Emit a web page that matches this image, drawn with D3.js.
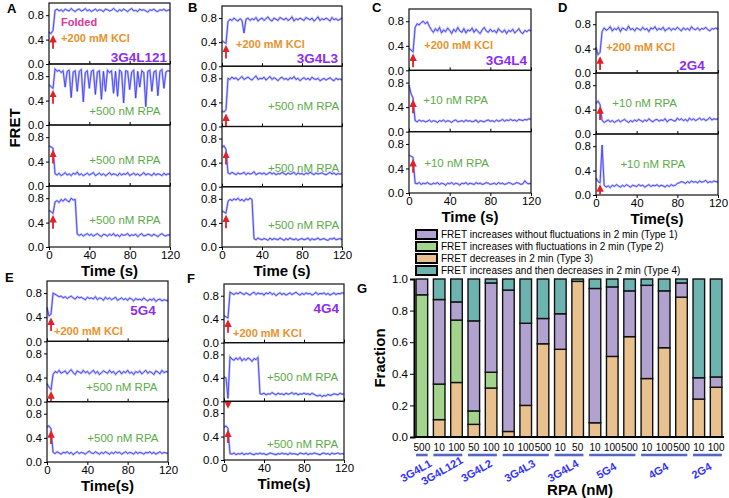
<!DOCTYPE html>
<meta charset="utf-8">
<head>
<script src="https://d3js.org/d3.v7.min.js"></script>
<style>
  body { margin: 0; background: #fff; }
  svg { font-family: Arial, "Liberation Sans", sans-serif; }
  .trace-bg { fill: none; stroke: #b9b9ff; stroke-width: 2.2; }
  .trace { fill: none; stroke: #3434f2; stroke-width: 0.8; }
  .frame { fill: none; stroke: #111; stroke-width: 1.2; }
  .axis path, .axis line { stroke: #000; }
  .axis text { font-size: 11.5px; fill: #000; }
  .ttl { font-weight: bold; font-size: 15px; }
</style>
</head>
<body>
<div id="my_dataviz"></div>
<script>
// FRET traces, one sample every 2 s from 0 to 120 s
var timeStep = 2;
var timeTicks = [0, 40, 80, 120];
var fretTicks = [0, 0.4, 0.8];

var traceA1 = [.52,.50,.55,.88,.90,.87,.89,.86,.90,.88, .87,.91,.88,.86,.89,.90,.87,.88,.91,.87, .89,.86,.88,.90,.87,.89,.88,.86,.90,.89,
  .87,.88,.91,.88,.86,.89,.87,.90,.88,.86, .89,.91,.87,.88,.86,.90,.88,.89,.87,.85, .89,.88,.90,.87,.86,.89,.88,.90,.87,.88, .89];
var traceA2 = [.66,.63,.60,.92,.88,.90,.86,.89,.62,.88, .90,.45,.87,.89,.55,.88,.91,.38,.86,.89, .60,.88,.90,.50,.87,.89,.42,.88,.55,.90,
  .86,.89,.52,.88,.47,.90,.87,.36,.89,.88, .58,.87,.90,.44,.88,.62,.89,.86,.30,.88, .90,.55,.87,.89,.48,.88,.91,.60,.87,.89, .88];
var traceA3 = [.66,.64,.62,.20,.18,.21,.17,.19,.22,.18, .20,.17,.21,.19,.23,.18,.20,.17,.19,.21, .18,.20,.22,.17,.19,.21,.18,.20,.17,.19,
  .22,.18,.20,.19,.17,.21,.18,.20,.19,.22, .17,.19,.21,.18,.20,.17,.19,.22,.18,.20, .19,.17,.21,.18,.20,.19,.17,.21,.18,.20, .19];
var traceA4 = [.60,.58,.55,.74,.76,.73,.78,.75,.79,.76, .74,.80,.77,.78,.21,.19,.21,.18,.20,.22, .19,.21,.18,.20,.22,.19,.17,.21,.20,.18,
  .21,.19,.22,.18,.20,.17,.21,.19,.20,.22, .18,.20,.19,.21,.17,.20,.22,.18,.19,.21, .20,.18,.21,.19,.17,.20,.22,.19,.18,.20, .19];

var traceB1 = [.42,.40,.38,.74,.78,.76,.80,.77,.75,.79, .76,.55,.78,.80,.76,.79,.77,.81,.75,.78, .80,.76,.79,.82,.77,.75,.80,.78,.76,.81,
  .79,.77,.80,.76,.78,.82,.75,.79,.77,.80, .78,.76,.81,.79,.77,.80,.75,.78,.82,.76, .79,.77,.80,.78,.75,.81,.77,.79,.76,.78, .80];
var traceB2 = [.26,.24,.28,.80,.78,.82,.79,.81,.77,.80, .83,.78,.80,.82,.79,.77,.81,.84,.78,.80, .79,.82,.77,.80,.83,.78,.81,.79,.76,.80,
  .82,.78,.80,.77,.81,.79,.83,.78,.80,.76, .79,.81,.78,.80,.77,.82,.79,.78,.80,.76, .78,.80,.77,.79,.81,.78,.76,.80,.78,.79, .77];
var traceB3 = [.66,.68,.62,.23,.21,.24,.22,.20,.23,.21, .22,.24,.20,.23,.21,.22,.25,.20,.22,.23, .21,.23,.20,.22,.24,.21,.23,.20,.22,.21,
  .24,.22,.20,.23,.21,.22,.24,.20,.23,.21, .22,.20,.23,.21,.24,.22,.20,.23,.21,.22, .23,.21,.20,.22,.24,.21,.23,.20,.22,.21, .22];
var traceB4 = [.60,.58,.56,.76,.79,.77,.80,.78,.81,.77, .79,.76,.80,.78,.81,.79,.14,.12,.15,.13, .12,.14,.13,.11,.15,.12,.14,.13,.12,.15,
  .13,.11,.14,.12,.15,.13,.12,.14,.11,.13, .14,.12,.13,.15,.11,.14,.12,.13,.15,.12, .13,.14,.12,.11,.14,.13,.15,.12,.13,.14, .12];

var traceC1 = [.36,.33,.30,.70,.76,.74,.78,.80,.76,.79, .72,.66,.62,.68,.64,.70,.61,.66,.63,.69, .65,.60,.67,.63,.70,.64,.62,.68,.61,.66,
  .64,.69,.62,.67,.63,.60,.66,.70,.64,.62, .67,.63,.65,.61,.68,.64,.62,.66,.60,.65, .63,.67,.61,.64,.68,.62,.60,.65,.63,.66, .64];
var traceC2 = [.76,.62,.55,.18,.16,.19,.17,.18,.16,.17, .19,.16,.18,.17,.15,.18,.17,.19,.16,.18, .17,.15,.18,.19,.16,.17,.18,.16,.19,.17,
  .18,.16,.17,.19,.15,.18,.17,.16,.18,.19, .17,.18,.16,.19,.17,.18,.20,.17,.19,.18, .20,.18,.19,.17,.20,.19,.18,.20,.19,.21, .20];
var traceC3 = [.62,.60,.58,.16,.15,.17,.14,.16,.15,.17, .15,.14,.16,.15,.17,.14,.16,.15,.13,.16, .15,.17,.14,.16,.15,.13,.16,.15,.17,.14,
  .16,.15,.14,.17,.15,.16,.14,.15,.17,.16, .14,.15,.16,.14,.17,.15,.16,.14,.15,.17, .16,.14,.15,.17,.16,.14,.15,.20,.16,.15, .16];

var traceD1 = [.42,.30,.34,.68,.74,.70,.72,.76,.69,.73, .71,.75,.68,.74,.72,.70,.77,.71,.73,.69, .74,.72,.70,.75,.71,.73,.68,.74,.72,.76,
  .70,.73,.71,.75,.69,.72,.74,.70,.73,.71, .75,.72,.69,.74,.71,.73,.70,.76,.72,.71, .74,.70,.73,.72,.75,.71,.69,.73,.72,.74, .71];
var traceD2 = [.50,.54,.48,.22,.19,.21,.23,.20,.22,.19, .21,.23,.20,.22,.24,.21,.19,.22,.20,.23, .21,.24,.22,.20,.23,.21,.25,.22,.20,.23,
  .24,.21,.23,.22,.25,.20,.23,.24,.22,.21, .26,.23,.25,.22,.24,.21,.26,.23,.25,.22, .24,.26,.23,.25,.22,.24,.27,.23,.25,.24, .25];
var traceD3 = [.28,.22,.20,.82,.16,.13,.15,.12,.16,.14, .17,.15,.13,.16,.14,.17,.15,.13,.16,.15, .14,.17,.15,.16,.13,.15,.17,.14,.16,.15,
  .17,.14,.16,.15,.13,.16,.14,.17,.15,.16, .19,.20,.22,.21,.19,.22,.20,.23,.21,.22, .20,.23,.21,.22,.24,.20,.22,.21,.23,.22, .21];

var traceE1 = [.56,.42,.45,.80,.78,.76,.74,.75,.72,.74, .71,.73,.75,.72,.70,.74,.72,.73,.71,.69, .73,.71,.72,.70,.74,.69,.72,.71,.68,.73,
  .70,.72,.69,.71,.73,.68,.70,.72,.69,.71, .68,.72,.70,.67,.71,.69,.70,.68,.72,.69, .67,.70,.68,.71,.66,.69,.70,.67,.69,.68, .67];
var traceE2 = [.30,.24,.20,.45,.50,.48,.52,.47,.49,.51, .46,.50,.53,.48,.45,.51,.49,.47,.52,.48, .50,.46,.49,.52,.47,.50,.45,.48,.51,.49,
  .47,.52,.48,.50,.45,.49,.51,.46,.50,.48, .52,.47,.49,.45,.50,.48,.51,.46,.49,.52, .47,.50,.48,.45,.51,.49,.46,.52,.48,.50, .49];
var traceE3 = [.58,.60,.55,.16,.14,.17,.15,.13,.16,.15, .17,.14,.16,.12,.15,.17,.14,.16,.15,.13, .16,.18,.15,.14,.17,.15,.13,.16,.14,.17,
  .15,.13,.16,.14,.17,.15,.16,.13,.15,.17, .14,.16,.15,.13,.17,.14,.16,.15,.13,.16, .15,.17,.14,.16,.13,.15,.17,.14,.16,.15, .14];

var traceF1 = [.46,.44,.42,.86,.84,.82,.85,.83,.86,.84, .82,.85,.83,.81,.84,.86,.82,.85,.83,.84, .81,.85,.83,.86,.82,.84,.80,.83,.85,.82,
  .84,.81,.83,.85,.82,.84,.86,.83,.81,.84, .82,.85,.83,.84,.81,.83,.86,.82,.84,.83, .85,.82,.84,.81,.83,.85,.82,.84,.83,.85, .84];
var traceF2 = [.42,.40,.05,.76,.72,.70,.74,.71,.75,.69, .73,.70,.74,.72,.68,.73,.71,.75,.13,.12, .14,.11,.13,.12,.15,.13,.11,.14,.12,.13,
  .11,.14,.12,.13,.15,.12,.14,.11,.13,.12, .14,.12,.13,.11,.14,.12,.10,.09,.11,.08, .10,.09,.12,.10,.11,.13,.12,.11,.14,.12, .13];
var traceF3 = [.56,.58,.54,.11,.10,.12,.09,.11,.10,.12, .09,.11,.10,.12,.10,.09,.11,.10,.12,.10, .11,.09,.10,.12,.11,.10,.09,.11,.10,.12,
  .10,.11,.09,.12,.10,.11,.10,.09,.12,.11, .10,.12,.09,.11,.10,.12,.11,.10,.09,.11, .12,.10,.11,.09,.12,.10,.11,.12,.10,.11, .10];

// Panel G: fraction of each trace type per construct / RPA concentration
var groupNames = ["3G4L1", "3G4L121", "3G4L2", "3G4L3", "3G4L4", "5G4", "4G4", "2G4"];
var barGroup   = [0, 1, 1, 2, 2, 3, 3, 3, 4, 4, 5, 5, 5, 6, 6, 6, 7, 7];
var barRPA     = ["500", "10", "100", "50", "100", "10", "100", "500", "10", "50", "10", "100", "500", "10", "100", "500", "10", "100"];
var type3 = [0, .11, .345, .08, .31, .035, .20, .59, .555, .985, .09, .51, .635, .37, .565, .885, .24, .315];
var type2 = [.90, .225, .395, .085, .10, 0, 0, 0, 0, 0, 0, 0, 0, 0, 0, 0, 0, 0];
var type1 = [.10, .535, .115, .57, .565, .895, .52, .16, .225, 0, .85, .44, .29, .59, .36, .09, .135, .065];
var type4 = [0, .13, .145, .265, .025, .07, .28, .25, .22, .015, .06, .05, .075, .04, .075, .025, .625, .62];

var typeKeys = ["type3", "type2", "type1", "type4"];
var typeColor = { type1: "#b2a2cf", type2: "#a3d48d", type3: "#e9c18f", type4: "#6db4b1" };
var legendItems = [
  ["type1", "FRET increases without fluctuations in 2 min (Type 1)"],
  ["type2", "FRET increases with fluctuations in 2 min (Type 2)"],
  ["type3", "FRET decreases in 2 min (Type 3)"],
  ["type4", "FRET increases and then decreases in 2 min (Type 4)"]
];

var cOrange = "#e8922c", cPurple = "#8c2cf0", cGreen = "#5aab46", cPink = "#e0359a", cRed = "#e2202a";
var kcl = "+200 mM KCl";

function note(text, t, v, color, opt) {
  opt = opt || {};
  return { text: text, t: t, v: v, color: color, bold: opt.bold !== false, anchor: opt.anchor || "start", size: opt.size || 11 };
}
function rpa(text, t, v) { return note(text, t, v, cGreen, { bold: false, size: 11.5 }); }

var panels = [
  { letter: "A", lx: 7, ly: 13, x0: 49, x1: 170, y0: 3, y1: 247, title: "Time (s)", rows: [
    { data: traceA1, notes: [note("Folded", 12, 0.63, cPink), note(kcl, 12, 0.36, cOrange), note("3G4L121", 117, 0.04, cPurple, { anchor: "end", size: 13.5 })] },
    { data: traceA2, notes: [rpa("+500 nM RPA", 40, 0.16)] },
    { data: traceA3, notes: [rpa("+500 nM RPA", 40, 0.36)] },
    { data: traceA4, notes: [rpa("+500 nM RPA", 40, 0.38)] } ] },
  { letter: "B", lx: 188, ly: 12, x0: 222, x1: 342, y0: 6, y1: 247, title: "Time (s)", rows: [
    { data: traceB1, notes: [note(kcl, 14, 0.31, cOrange), note("3G4L3", 116, 0.05, cPurple, { anchor: "end", size: 13.5 })] },
    { data: traceB2, notes: [rpa("+500 nM RPA", 46, 0.28)] },
    { data: traceB3, notes: [rpa("+500 nM RPA", 46, 0.24)] },
    { data: traceB4, notes: [rpa("+500 nM RPA", 46, 0.3)] } ] },
  { letter: "C", lx: 372, ly: 12, x0: 409, x1: 531, y0: 9, y1: 193, title: "Time (s)", rows: [
    { data: traceC1, notes: [note(kcl, 15, 0.35, cOrange), note("3G4L4", 116, 0.08, cPurple, { anchor: "end", size: 13.5 })] },
    { data: traceC2, notes: [rpa("+10 nM RPA", 14, 0.45)] },
    { data: traceC3, notes: [rpa("+10 nM RPA", 15, 0.43)] } ] },
  { letter: "D", lx: 558, ly: 12, x0: 596, x1: 718, y0: 12, y1: 195, title: "Time(s)", rows: [
    { data: traceD1, notes: [note(kcl, 10, 0.36, cOrange), note("2G4", 107, 0.05, cPurple, { anchor: "end", size: 13.5 })] },
    { data: traceD2, notes: [rpa("+10 nM RPA", 16, 0.44)] },
    { data: traceD3, notes: [rpa("+10 nM RPA", 24, 0.45)] } ] },
  { letter: "E", lx: 5, ly: 282, x0: 47, x1: 168, y0: 281, y1: 462, title: "Time(s)", rows: [
    { data: traceE1, notes: [note("5G4", 108, 0.43, cPurple, { anchor: "end", size: 13.5 }), note(kcl, 7, 0.1, cOrange)] },
    { data: traceE2, notes: [rpa("+500 nM RPA", 39, 0.17)] },
    { data: traceE3, notes: [rpa("+500 nM RPA", 40, 0.33)] } ] },
  { letter: "F", lx: 187, ly: 283, x0: 224, x1: 344, y0: 284, y1: 460, title: "Time(s)", rows: [
    { data: traceF1, notes: [note("4G4", 115, 0.51, cPurple, { anchor: "end", size: 13.5 }), note(kcl, 9, 0.1, cOrange)] },
    { data: traceF2, notes: [rpa("+500 nM RPA", 43, 0.35)] },
    { data: traceF3, notes: [rpa("+500 nM RPA", 43, 0.2)] } ] }
];

var width = 729, height = 498;
var svg = d3.select("#my_dataviz").append("svg")
  .attr("width", width)
  .attr("height", height);

// arrow head marker
svg.append("defs").append("marker")
  .attr("id", "head")
  .attr("viewBox", "0 0 10 10")
  .attr("refX", 4).attr("refY", 5)
  .attr("markerWidth", 4.2).attr("markerHeight", 4.2)
  .attr("orient", "auto")
  .append("path").attr("d", "M0,0L10,5L0,10z").attr("fill", cRed);

panels.forEach(function (p) {
  var g = svg.append("g");
  var x = d3.scaleLinear().domain([0, 120]).range([p.x0, p.x1]);
  var rowH = (p.y1 - p.y0) / p.rows.length;

  g.append("text").attr("x", p.lx).attr("y", p.ly)
    .attr("font-weight", "bold").attr("font-size", 13).text(p.letter);

  p.rows.forEach(function (r, i) {
    var top = p.y0 + i * rowH;
    var y = d3.scaleLinear().domain([0, 1]).range([top + rowH, top]);
    var last = i == p.rows.length - 1;

    var line = d3.line()
      .x(function (d, j) { return x(j * timeStep); })
      .y(function (d) { return y(d); });
    g.append("path").datum(r.data).attr("class", "trace-bg").attr("d", line);
    g.append("path").datum(r.data).attr("class", "trace").attr("d", line);

    g.append("rect").attr("class", "frame")
      .attr("x", p.x0).attr("y", top)
      .attr("width", p.x1 - p.x0).attr("height", rowH);

    g.append("g").attr("class", "axis")
      .attr("transform", "translate(" + p.x0 + ",0)")
      .call(d3.axisLeft(y).tickValues(fretTicks).tickSize(3).tickPadding(2).tickFormat(d3.format(".1f")))
      .select(".domain").remove();

    // ticks along the bottom edge of each row
    g.append("g").attr("class", "axis")
      .attr("transform", "translate(0," + (top + rowH) + ")")
      .call(d3.axisBottom(x).tickValues(timeTicks).tickSize(last ? 3 : -3).tickPadding(1)
        .tickFormat(last ? null : ""))
      .select(".domain").remove();

    // red arrow marking buffer injection
    var v0 = Math.min(r.data[1], r.data[2]) - 0.05;
    g.append("line")
      .attr("x1", x(4)).attr("x2", x(4))
      .attr("y1", y(Math.max(0.01, v0 - 0.2))).attr("y2", y(v0) + 3)
      .attr("stroke", cRed).attr("stroke-width", 1.8)
      .attr("marker-end", "url(#head)");

    r.notes.forEach(function (n) {
      g.append("text")
        .attr("x", x(n.t)).attr("y", y(n.v))
        .attr("text-anchor", n.anchor)
        .attr("font-size", n.size)
        .attr("font-weight", n.bold ? "bold" : "normal")
        .attr("fill", n.color)
        .text(n.text);
    });
  });

  g.append("text").attr("class", "ttl")
    .attr("x", (p.x0 + p.x1) / 2).attr("y", p.y1 + 29)
    .attr("text-anchor", "middle").text(p.title);
});

// FRET y title
svg.append("text").attr("class", "ttl")
  .attr("transform", "translate(20,128) rotate(-90)")
  .attr("text-anchor", "middle").attr("font-size", 16).text("FRET");

// ---- Panel G ----
var gx0 = 414, gx1 = 724, gy0 = 279, gy1 = 437;
var table = barRPA.map(function (c, i) {
  return { idx: i, type1: type1[i], type2: type2[i], type3: type3[i], type4: type4[i] };
});
var stack = d3.stack().keys(typeKeys)(table);

var xb = d3.scaleBand().domain(d3.range(barRPA.length)).range([gx0, gx1])
  .paddingInner(0.33).paddingOuter(0.12);
var yb = d3.scaleLinear().domain([0, 1]).range([gy1, gy0]);

var gG = svg.append("g");
gG.append("text").attr("x", 357).attr("y", 293).attr("font-weight", "bold").attr("font-size", 13).text("G");

stack.forEach(function (layer) {
  gG.selectAll(null).data(layer.filter(function (d) { return d[1] - d[0] > 0.001; }))
    .enter().append("rect")
    .attr("x", function (d) { return xb(d.data.idx); })
    .attr("width", xb.bandwidth())
    .attr("y", function (d) { return yb(d[1]); })
    .attr("height", function (d) { return yb(d[0]) - yb(d[1]); })
    .attr("fill", typeColor[layer.key])
    .attr("stroke", "#111").attr("stroke-width", 1.4);
});

gG.append("g").attr("class", "axis")
  .attr("transform", "translate(" + gx0 + ",0)")
  .call(d3.axisLeft(yb).tickValues(d3.range(0, 1.01, 0.2)).tickSize(4).tickPadding(2).tickFormat(d3.format(".1f")))
  .call(function (a) { a.select(".domain").attr("stroke-width", 2); a.selectAll("text").attr("font-size", 12.5); });
gG.append("line").attr("x1", gx0).attr("x2", gx1).attr("y1", gy1).attr("y2", gy1)
  .attr("stroke", "#000").attr("stroke-width", 2);

gG.selectAll(".conc").data(barRPA).enter().append("text")
  .attr("x", function (d, i) { return xb(i) + xb.bandwidth() / 2; })
  .attr("y", 451).attr("text-anchor", "middle").attr("font-size", 10).text(function (d) { return d; });

groupNames.forEach(function (name, gi) {
  var members = d3.range(barRPA.length).filter(function (i) { return barGroup[i] == gi; });
  var left = xb(members[0]), right = xb(members[members.length - 1]) + xb.bandwidth();
  gG.append("line").attr("x1", left).attr("x2", right).attr("y1", 455).attr("y2", 455)
    .attr("stroke", "#5467c6").attr("stroke-width", 2.6);
  var cx = (left + right) / 2 - 4;
  gG.append("text")
    .attr("transform", "translate(" + cx + ",474) rotate(-30)")
    .attr("text-anchor", "middle").attr("font-size", 11).attr("font-weight", "bold")
    .attr("fill", "#3232ff").text(name);
});

gG.append("text").attr("class", "ttl").attr("x", 580).attr("y", 495)
  .attr("text-anchor", "middle").text("RPA (nM)");
gG.append("text").attr("class", "ttl")
  .attr("transform", "translate(385,358) rotate(-90)")
  .attr("text-anchor", "middle").text("Fraction");

// legend
legendItems.forEach(function (it, i) {
  var ly = 230 + i * 12;
  gG.append("rect").attr("x", 416).attr("y", ly).attr("width", 21).attr("height", 9)
    .attr("fill", typeColor[it[0]]).attr("stroke", "#000").attr("stroke-width", 2);
  gG.append("text").attr("x", 441).attr("y", ly + 8).attr("font-size", 10).text(it[1]);
});
</script>
</body>
